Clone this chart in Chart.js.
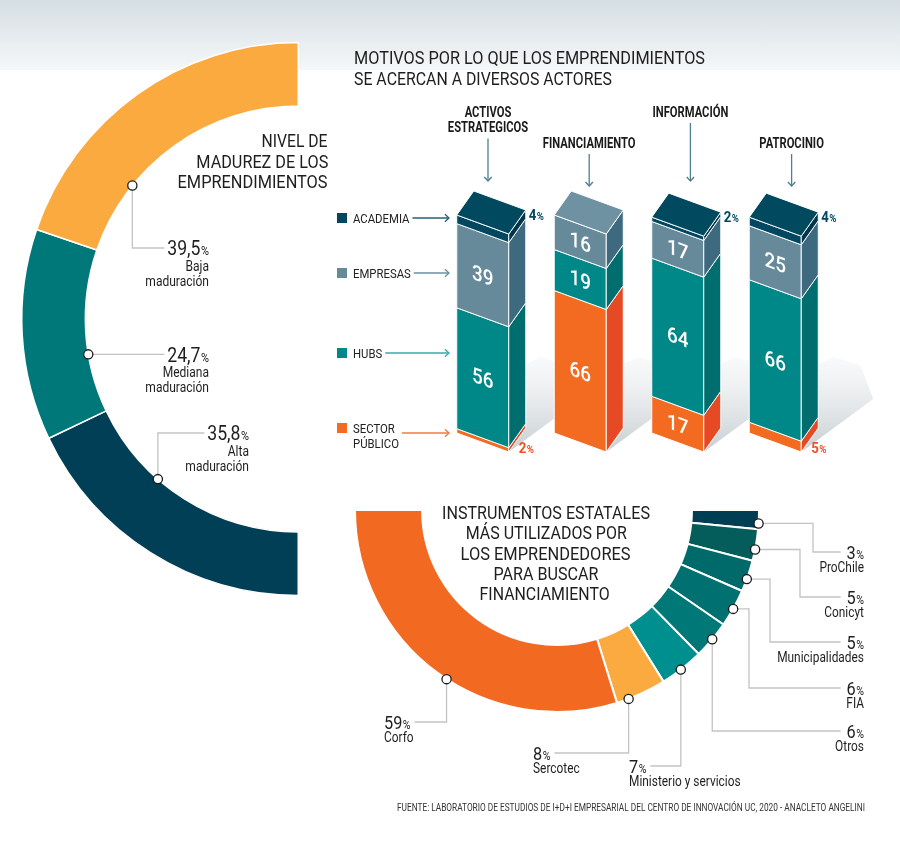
<!DOCTYPE html>
<html><head><meta charset="utf-8">
<script src="https://cdn.jsdelivr.net/npm/chart.js@4.4.1/dist/chart.umd.min.js"></script>
<style>
html,body{margin:0;padding:0;background:#fff;}
#wrap{position:relative;width:900px;height:851px;overflow:hidden;background:#fff;font-family:Roboto,"Noto Sans",sans-serif;color:#1e1e1e;}
#band{position:absolute;left:0;top:0;width:900px;height:70px;background:linear-gradient(#d5dfe4,#f5f7f8);}
canvas{position:absolute;left:0;top:0;}
.t{position:absolute;white-space:nowrap;}
</style></head>
<body><div id="wrap">
<div id="band"></div>
<canvas id="c1" width="900" height="851"></canvas>
<canvas id="c2" width="900" height="851"></canvas>
<canvas id="c3" width="900" height="851"></canvas>
</div>
<script>
// ---------- DATA ----------
const maturityLabels = ['Alta maduración', 'Mediana maduración', 'Baja maduración'];
const maturityValues = [35.8, 24.7, 39.5];

const motiveCategories = ['ACTIVOS ESTRATEGICOS', 'FINANCIAMIENTO', 'INFORMACIÓN', 'PATROCINIO'];
const actorNames = ['SECTOR PÚBLICO', 'HUBS', 'EMPRESAS', 'ACADEMIA'];
const sectorPublicoValues = [2, 66, 17, 5];
const hubsValues = [56, 19, 64, 66];
const empresasValues = [39, 16, 17, 25];
const academiaValues = [4, 0, 2, 4];

const instrumentLabels = ['ProChile', 'Conicyt', 'Municipalidades', 'FIA', 'Otros', 'Ministerio y servicios', 'Sercotec', 'Corfo'];
const instrumentValues = [3, 5, 5, 6, 6, 7, 8, 59];

// ---------- STATIC TEXT ----------
const staticTexts = [
  {s:'MOTIVOS POR LO QUE LOS EMPRENDIMIENTOS', x:354, y:58, size:17.5, w:351, align:'left'},
  {s:'SE ACERCAN A DIVERSOS ACTORES', x:354, y:79, size:17.5, w:258, align:'left'},
  {s:'NIVEL DE', x:328, y:141, size:17.5, w:66, align:'right'},
  {s:'MADUREZ DE LOS', x:328, y:162, size:17.5, w:132, align:'right'},
  {s:'EMPRENDIMIENTOS', x:328, y:182, size:17.5, w:150, align:'right'},
  {s:'INSTRUMENTOS ESTATALES', x:546, y:513, size:17.5, w:208, align:'center'},
  {s:'MÁS UTILIZADOS POR', x:546, y:533, size:17.5, w:161, align:'center'},
  {s:'LOS EMPRENDEDORES', x:546, y:554, size:17.5, w:170, align:'center'},
  {s:'PARA BUSCAR', x:546, y:574, size:17.5, w:105, align:'center'},
  {s:'FINANCIAMIENTO', x:545, y:594, size:17.5, w:130, align:'center'},
  {s:'FUENTE: LABORATORIO DE ESTUDIOS DE I+D+I EMPRESARIAL DEL CENTRO DE INNOVACIÓN UC, 2020 - ANACLETO ANGELINI', x:397, y:808, size:10, w:468, align:'left', color:'#333'}
];
function placeStatic(){
  const wrap = document.getElementById('wrap');
  staticTexts.forEach(t => {
    const d = document.createElement('div');
    d.className = 't';
    d.textContent = t.s;
    d.style.fontSize = t.size + 'px';
    d.style.lineHeight = '20px';
    d.style.color = t.color || '#1e1e1e';
    d.style.top = (t.y - 10) + 'px';
    d.style.left = '0px';
    wrap.appendChild(d);
    const nat = d.getBoundingClientRect().width;
    const s = t.w / nat;
    const left = t.align === 'left' ? t.x : t.align === 'right' ? t.x - nat : t.x - nat / 2;
    d.style.left = left + 'px';
    d.style.transformOrigin = t.align === 'left' ? '0 50%' : t.align === 'right' ? '100% 50%' : '50% 50%';
    d.style.transform = 'scaleX(' + s + ')';
  });
}

// ---------- HELPERS ----------
const FONT = 'Roboto, "Noto Sans", sans-serif';
function fnt(o){ return (o.weight || 400) + ' ' + (o.size || 14) + 'px ' + FONT; }
function measure(ctx, s, o){ ctx.save(); ctx.font = fnt(o); const w = ctx.measureText(s).width * (o.sx || 0.86); ctx.restore(); return w; }
function drawText(ctx, s, x, yc, o){
  const size = o.size || 14, sx = o.sx || 0.86, align = o.align || 'left';
  ctx.save();
  ctx.font = fnt(o);
  ctx.fillStyle = o.color || '#1e1e1e';
  ctx.textAlign = 'left'; ctx.textBaseline = 'alphabetic';
  const w = ctx.measureText(s).width * sx;
  const x0 = align === 'left' ? x : align === 'right' ? x - w : x - w / 2;
  ctx.translate(x0, yc + size * 0.355);
  ctx.scale(sx, 1);
  ctx.fillText(s, 0, 0);
  ctx.restore();
  return w;
}
function pctWidth(ctx, num, o){
  return measure(ctx, num, o) + measure(ctx, '%', {size:o.pctSize, weight:o.weight, sx:o.sx}) + 0.5;
}
function drawPct(ctx, num, x, yc, o){
  const nO = {size:o.size, weight:o.weight, sx:o.sx, color:o.color};
  const pO = {size:o.pctSize, weight:o.weight, sx:o.sx, color:o.color};
  const wn = measure(ctx, num, nO);
  const tot = pctWidth(ctx, num, o);
  const x0 = o.align === 'right' ? x - tot : o.align === 'center' ? x - tot / 2 : x;
  drawText(ctx, num, x0, yc, nO);
  const base = yc + o.size * 0.355;
  drawText(ctx, '%', x0 + wn + 0.5, base - o.pctSize * 0.355, pO);
  return tot;
}
function drawDot(ctx, x, y){
  ctx.save();
  ctx.beginPath(); ctx.arc(x, y, 4.6, 0, Math.PI * 2);
  ctx.fillStyle = '#fff'; ctx.fill();
  ctx.lineWidth = 1.3; ctx.strokeStyle = '#1a1a1a'; ctx.stroke();
  ctx.restore();
}
function leader(ctx, pts){
  ctx.save();
  ctx.strokeStyle = '#c3c3c3'; ctx.lineWidth = 1.3;
  ctx.beginPath(); ctx.moveTo(pts[0][0], pts[0][1]);
  for (let i = 1; i < pts.length; i++) ctx.lineTo(pts[i][0], pts[i][1]);
  ctx.stroke(); ctx.restore();
}
function poly(ctx, pts){
  ctx.beginPath(); ctx.moveTo(pts[0][0], pts[0][1]);
  for (let i = 1; i < pts.length; i++) ctx.lineTo(pts[i][0], pts[i][1]);
  ctx.closePath();
}
function arrow(ctx, x0, y0, x1, y1, color){
  ctx.save();
  ctx.strokeStyle = color; ctx.lineWidth = 1.3;
  ctx.beginPath(); ctx.moveTo(x0, y0); ctx.lineTo(x1, y1); ctx.stroke();
  const a = Math.atan2(y1 - y0, x1 - x0), L = 5.5;
  ctx.beginPath();
  ctx.moveTo(x1 + L * Math.cos(a + 2.4), y1 + L * Math.sin(a + 2.4));
  ctx.lineTo(x1, y1);
  ctx.lineTo(x1 + L * Math.cos(a - 2.4), y1 + L * Math.sin(a - 2.4));
  ctx.stroke();
  ctx.restore();
}

// ---------- CHART 1: maturity half doughnut ----------
const maturityColors = ['#003F55', '#00787A', '#FBAA3F'];
const maturityLayout = [
  {f:0.64, route:'up', y:433, right:249},
  {f:0.36, route:'h', right:209},
  {f:0.28, route:'down', y:248, right:209}
];
const matLabels = {
  id:'matLabels',
  afterDatasetsDraw(chart){
    const ctx = chart.ctx, meta = chart.getDatasetMeta(0);
    meta.data.forEach((arc, i) => {
      const L = maturityLayout[i];
      const p = arc.getProps(['x','y','startAngle','endAngle','innerRadius'], true);
      const a = p.startAngle + L.f * (p.endAngle - p.startAngle);
      const dx = p.x + p.innerRadius * Math.cos(a), dy = p.y + p.innerRadius * Math.sin(a);
      const val = maturityValues[i].toFixed(1).replace('.', ',');
      const vo = {size:21, pctSize:13, sx:0.84, weight:400, color:'#1e1e1e'};
      const wv = pctWidth(ctx, val, vo);
      const ty = L.route === 'h' ? dy : L.y;
      const end = L.right - wv - 3;
      const pts = [[dx, dy]];
      if (L.route !== 'h') pts.push([dx, ty]);
      pts.push([end, ty]);
      leader(ctx, pts);
      drawDot(ctx, dx, dy);
      drawPct(ctx, val, L.right, ty, Object.assign({align:'right'}, vo));
      maturityLabels[i].split(' ').forEach((w, j) =>
        drawText(ctx, w, L.right, ty + 18 + 15 * j, {size:14, sx:0.86, align:'right'}));
    });
  }
};

// ---------- CHART 2: 3D stacked bars ----------
const SK = 19, DX = 17, DY = -24;
const barStyle = [
  {front:'#F36B21', side:'#E54A25', top:'#F7894A', label:'#F04E23', arrow:'#F47A3B'},
  {front:'#008788', side:'#006D6E', top:'#1F9898', label:'#008788', arrow:'#3AA8A9'},
  {front:'#678A9B', side:'#3D6A7E', top:'#6F92A2', label:'#678A9B', arrow:'#6690A2'},
  {front:'#00475F', side:'#00354A', top:'#00495F', label:'#00475F', arrow:'#24607A'}
];
const legendY = [433, 353, 273, 218];
const seriesValues = [sectorPublicoValues, hubsValues, empresasValues, academiaValues];

const bar3d = {
  id:'bar3d',
  beforeDatasetsDraw(chart){
    const ctx = chart.ctx;
    const m0 = chart.getDatasetMeta(0);
    // floor shadows
    m0.data.forEach(el => {
      const right = el.x + el.width / 2;
      const base = el.base, R = right + DX, Bs = base + SK + DY;
      const g = ctx.createLinearGradient(0, Bs - 72, 0, base + SK);
      g.addColorStop(0, 'rgba(240,242,243,0.4)');
      g.addColorStop(1, '#C6CDD1');
      ctx.save(); ctx.fillStyle = g;
      poly(ctx, [[right, base + SK], [R, Bs - 64], [R + 15, Bs - 71], [R + 42, Bs - 63], [R + 55, Bs - 29]]);
      ctx.fill(); ctx.restore();
    });
    // category headers with arrows
    const xs = chart.scales.x;
    chart.data.labels.forEach((lab, i) => {
      const px = xs.getPixelForValue(i);
      const hx = 488 + (px - xs.getPixelForValue(0)) * 1.038;
      const lines = lab.split(' ');
      const y0 = i % 2 === 0 ? 112 : 143;
      lines.forEach((ln, j) => drawText(ctx, ln, hx, y0 + j * 15.5, {size:14, weight:700, sx:0.8, align:'center', color:'#1a1a1a'}));
      const ay0 = y0 + (lines.length - 1) * 15.5 + 11;
      arrow(ctx, hx, ay0, hx, i % 2 === 0 ? 181 : 186, '#4F7E92');
    });
    // legend
    chart.data.datasets.forEach((ds, k) => {
      const y = legendY[k], st = barStyle[k];
      const lines = k === 0 ? ds.label.split(' ') : [ds.label];
      ctx.save(); ctx.fillStyle = st.front;
      const sqY = lines.length > 1 ? y - 5 : y;
      ctx.fillRect(337, sqY - 5, 10, 10); ctx.restore();
      let mw = 0;
      lines.forEach((ln, j) => {
        const yc = lines.length > 1 ? y - 5 + 15 * j : y;
        mw = Math.max(mw, drawText(ctx, ln, 353, yc, {size:13.2, sx:0.86, color:'#222'}));
      });
      arrow(ctx, 353 + mw + 3, y, 449, y, st.arrow);
    });
  },
  afterDatasetsDraw(chart){
    const ctx = chart.ctx;
    const n = chart.data.labels.length;
    const metas = chart.data.datasets.map((d, k) => chart.getDatasetMeta(k));
    ctx.save();
    ctx.lineJoin = 'round';
    ctx.strokeStyle = 'rgba(255,255,255,0.95)';
    ctx.lineWidth = 1;
    for (let i = 0; i < n; i++) {
      let topInfo = null;
      metas.forEach((meta, k) => {
        const v = seriesValues[k][i];
        if (!v) return;
        const el = meta.data[i], st = barStyle[k];
        const left = el.x - el.width / 2, right = el.x + el.width / 2;
        const t = el.y, b = el.base;
        poly(ctx, [[left, t], [right, t + SK], [right, b + SK], [left, b]]);
        ctx.fillStyle = st.front; ctx.fill(); ctx.stroke();
        poly(ctx, [[right, t + SK], [right + DX, t + SK + DY], [right + DX, b + SK + DY], [right, b + SK]]);
        ctx.fillStyle = st.side; ctx.fill(); ctx.stroke();
        topInfo = {k, left, right, t};
      });
      if (topInfo) {
        const {k, left, right, t} = topInfo;
        poly(ctx, [[left, t], [left + DX, t + DY], [right + DX, t + SK + DY], [right, t + SK]]);
        ctx.fillStyle = barStyle[k].top; ctx.fill(); ctx.stroke();
      }
    }
    ctx.restore();
    // value labels
    for (let i = 0; i < n; i++) {
      metas.forEach((meta, k) => {
        const v = seriesValues[k][i];
        if (!v) return;
        const el = meta.data[i];
        const right = el.x + el.width / 2;
        const t = el.y, b = el.base;
        if (v >= 10) {
          ctx.save();
          ctx.translate(el.x, (t + b) / 2 + SK / 2);
          ctx.transform(1, SK / el.width, 0, 1, 0, 0);
          drawText(ctx, String(v), 0, 0, {size:21, weight:500, sx:0.9, align:'center', color:'#fff'});
          ctx.restore();
        } else {
          const o = {size:15, pctSize:11, weight:700, sx:0.88, color:barStyle[k].label, align:'left'};
          if (k === chart.data.datasets.length - 1) {
            drawPct(ctx, String(v), right + DX + 3, t + SK + DY + 5, o);
          } else {
            drawPct(ctx, String(v), right + 10, b + SK - 4, o);
          }
        }
      });
    }
  }
};

// ---------- CHART 3: instruments half doughnut ----------
const instrumentColors = ['#003E54', '#045D5A', '#006A6A', '#007070', '#007877', '#008F8F', '#FBAA3F', '#F26A21'];
const instrumentLayout = [
  {side:'right', f:0.7, elbowX:813, y:552},
  {side:'right', f:0.64, elbowX:800, y:597},
  {side:'right', f:0.6, elbowX:770, y:642},
  {side:'right', f:0.52, elbowX:749, y:688},
  {side:'right', f:0.48, y:731},
  {side:'left', f:0.53, y:766, x:629},
  {side:'left', f:0.76, y:753, x:533},
  {side:'left', f:0.47, y:722, x:384}
];
const instLabels = {
  id:'instLabels',
  afterDatasetsDraw(chart){
    const ctx = chart.ctx, meta = chart.getDatasetMeta(0);
    meta.data.forEach((arc, i) => {
      const L = instrumentLayout[i];
      const p = arc.getProps(['x','y','startAngle','endAngle','outerRadius'], true);
      const a = p.startAngle + L.f * (p.endAngle - p.startAngle);
      const dx = p.x + p.outerRadius * Math.cos(a), dy = p.y + p.outerRadius * Math.sin(a);
      const val = String(instrumentValues[i]);
      const vo = {size:18.5, pctSize:12, sx:0.88, weight:400, color:'#1e1e1e'};
      const wv = pctWidth(ctx, val, vo);
      const pts = [[dx, dy]];
      if (L.side === 'right') {
        const tx = 864;
        if (L.elbowX) { pts.push([L.elbowX, dy]); pts.push([L.elbowX, L.y]); }
        else pts.push([dx, L.y]);
        pts.push([tx - wv - 6, L.y]);
        leader(ctx, pts);
        drawPct(ctx, val, tx, L.y, Object.assign({align:'right'}, vo));
        drawText(ctx, instrumentLabels[i], tx, L.y + 15, {size:14, sx:0.85, align:'right'});
      } else {
        pts.push([dx, L.y]);
        pts.push([L.x + wv + 4, L.y]);
        leader(ctx, pts);
        drawPct(ctx, val, L.x, L.y, Object.assign({align:'left'}, vo));
        drawText(ctx, instrumentLabels[i], L.x, L.y + 15, {size:14, sx:0.85, align:'left'});
      }
      drawDot(ctx, dx, dy);
    });
  }
};

const common = {responsive:false, animation:false, devicePixelRatio:1,
  events:[], plugins:{legend:{display:false}, tooltip:{enabled:false}}};

new Chart(document.getElementById('c1'), {
  type:'doughnut',
  data:{labels:maturityLabels, datasets:[{data:maturityValues, backgroundColor:maturityColors,
    borderColor:'#ffffff', borderWidth:1.5, hoverOffset:0}]},
  options:Object.assign({}, common, {rotation:180, circumference:180, cutout:'77%',
    layout:{padding:{left:21, right:601, top:41, bottom:254}}}),
  plugins:[matLabels]
});

new Chart(document.getElementById('c2'), {
  type:'bar',
  data:{labels:motiveCategories, datasets:actorNames.map((nm, k) => ({
    label:nm, data:seriesValues[k], backgroundColor:'rgba(0,0,0,0)', borderWidth:0, barThickness:52}))},
  options:Object.assign({}, common, {
    layout:{padding:{left:434, right:76, top:215, bottom:418}},
    scales:{x:{stacked:true, display:false}, y:{stacked:true, display:false, min:0, max:101}}}),
  plugins:[bar3d]
});

new Chart(document.getElementById('c3'), {
  type:'doughnut',
  data:{labels:instrumentLabels, datasets:[{data:instrumentValues, backgroundColor:instrumentColors,
    borderColor:'#ffffff', borderWidth:2, hoverOffset:0}]},
  options:Object.assign({}, common, {rotation:90, circumference:180, cutout:'66.8%',
    layout:{padding:{left:354, right:140, top:509, bottom:138}}}),
  plugins:[instLabels]
});

placeStatic();
</script>
</body></html>
